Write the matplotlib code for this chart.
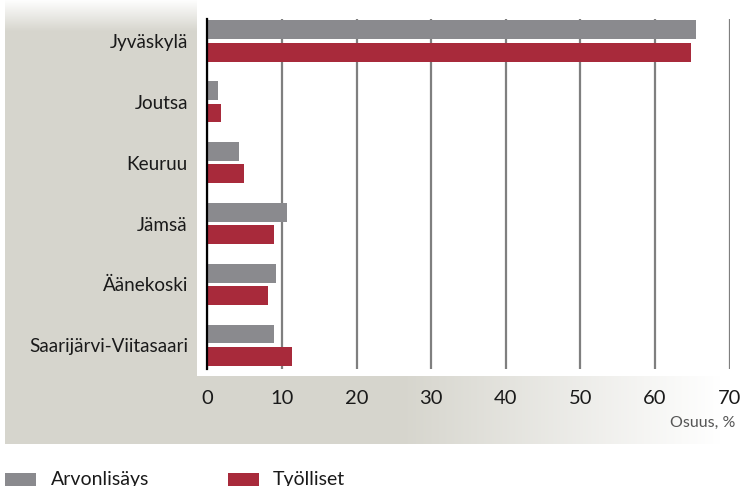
import numpy as np
import matplotlib.pyplot as plt
from matplotlib.patches import Rectangle

plt.rcParams['font.family'] = ['Lato', 'DejaVu Sans']

# Data
alueet = ['Jyväskylä', 'Joutsa', 'Keuruu', 'Jämsä', 'Äänekoski', 'Saarijärvi-Viitasaari']
arvonlisays = [65.5, 1.5, 4.3, 10.7, 9.2, 9.0]
tyolliset = [64.8, 1.9, 4.9, 8.9, 8.1, 11.4]
sarjat = ['Arvonlisäys', 'Työlliset']
xticks = [0, 10, 20, 30, 40, 50, 60, 70]

c_gray = '#8a8a8e'
c_red = '#a82a3b'
c_bg = np.array([214, 213, 205]) / 255

W, H = 745, 486
fig = plt.figure(figsize=(W / 100, H / 100), dpi=100)

# background panel with gradients
bg = fig.add_axes([0, 0, 1, 1], zorder=-10)
bg.set_xlim(0, W)
bg.set_ylim(H, 0)
bg.axis('off')
img = np.ones((H, W, 3))
xs = np.arange(W)
fade = np.clip((xs - 400) / (720 - 400), 0, 1)
for k in range(3):
    img[0:444, 5:, k] = c_bg[k] + (1 - c_bg[k]) * fade[5:]
ys = np.arange(444)
vfade = np.clip(1 - ys / 32, 0, 1)[:, None]
for k in range(3):
    img[0:444, 5:197, k] = c_bg[k] + (1 - c_bg[k]) * vfade
bg.imshow(img, extent=(0, W, H, 0), aspect='auto', interpolation='nearest')
bg.add_patch(Rectangle((197, 0), W - 197, 376, color='white', lw=0))

# legend (bottom, partly cut off like the original)
for x0, tx, col, name in [(5, 51, c_gray, sarjat[0]), (228, 273, c_red, sarjat[1])]:
    bg.add_patch(Rectangle((x0, 473), 31, 20, color=col, lw=0))
    bg.text(tx, 485, name, fontsize=14, color='#1a1a1a', va='baseline', ha='left')

# chart axes
ax = fig.add_axes([207.3 / W, 117 / H, 522.2 / W, 350 / H])
ax.set_facecolor('none')
y = np.arange(len(alueet))
h = 0.31
ax.barh(y - 0.185, arvonlisays, height=h, color=c_gray, zorder=3)
ax.barh(y + 0.185, tyolliset, height=h, color=c_red, zorder=3)
ax.set_xlim(0, 70)
ax.set_ylim(5.39, -0.36)
ax.set_xticks(xticks)
ax.set_yticks(y)
ax.set_yticklabels(alueet)
ax.tick_params(axis='x', length=0, pad=15, labelsize=14.5, labelcolor='#1a1a1a')
ax.tick_params(axis='y', length=0, pad=14, labelsize=13.6, labelcolor='#1a1a1a')
for s in ['top', 'right', 'bottom']:
    ax.spines[s].set_visible(False)
ax.spines['left'].set_color('black')
ax.spines['left'].set_linewidth(1.6)
ax.spines['left'].set_zorder(4)
ax.grid(axis='x', color='#7f7f7f', linewidth=1.6, zorder=1)
ax.yaxis.grid(False)

fig.text(735 / W, 1 - 423 / H, 'Osuus, %', ha='right', va='center', fontsize=11.5, color='#555555')

fig.savefig('out.png', dpi=100)
